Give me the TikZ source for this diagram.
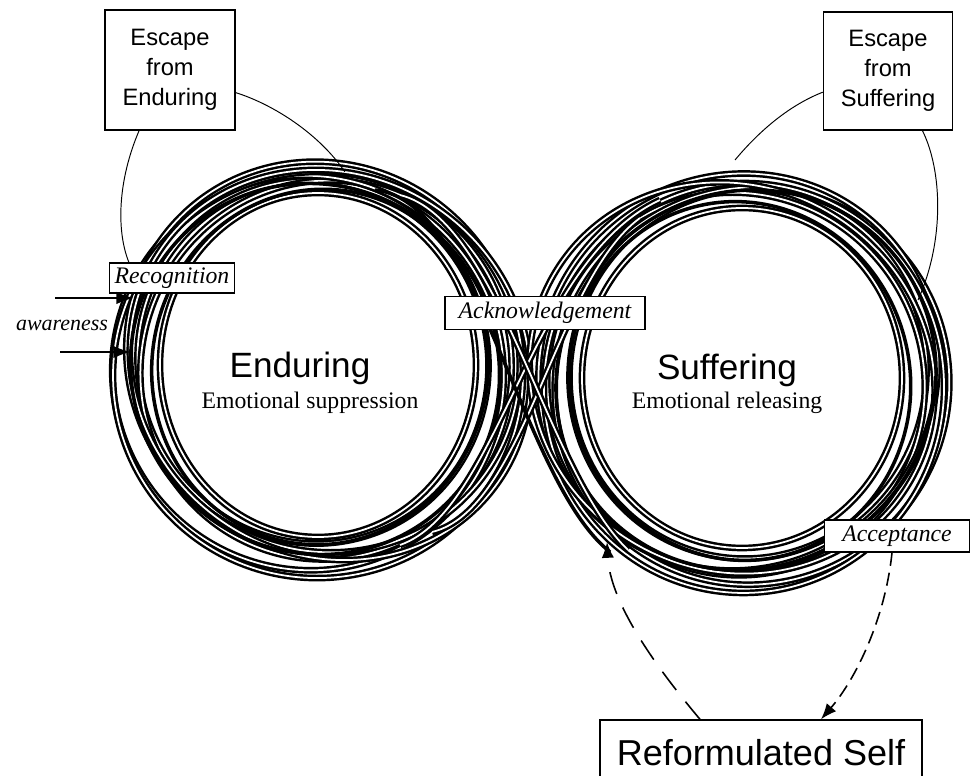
\documentclass[tikz,border=0pt]{standalone}
\usepackage{fontspec}
\setmainfont{Liberation Serif}
\setsansfont{Liberation Sans}
\usepackage{tikz}
\usetikzlibrary{calc, arrows, arrows.meta}
\tikzset{>=latex}

\begin{document}
\begin{tikzpicture}[x=0.02cm, y=-0.02cm,
  box/.style={draw, line width=0.8pt, font=\sffamily\fontsize{13.5}{17}\selectfont, align=center, inner sep=0pt},
  tag/.style={draw, line width=0.8pt, fill=white, font=\itshape\fontsize{13.5}{15}\selectfont, inner sep=0pt},
  strand/.style={line width=1.4pt, double=white, double distance=1pt},
  bold strand/.style={line width=2pt},
  escline/.style={line width=0.55pt},
  dashline/.style={line width=0.9pt, -{Latex[length=9pt, width=7pt]}}]
\useasboundingbox (0,0) rectangle (971,776);

% the two loops
\foreach \dx/\dy/\rx/\ry/\rot in {0/0/158/172/0, -5/-3/175/182/15, 8/5/185/190/-20,
  -10/8/195/198/30, 5/-8/200/192/-40, 0/10/205/203/10, 12/0/190/205/55}
  \draw[strand, rotate around={\rot:(318+\dx,365+\dy)}] (318+\dx,365+\dy) ellipse [x radius=\rx, y radius=\ry];
\foreach \dx/\dy/\rx/\ry/\rot in {2/2/168/178/-10, -3/4/182/188/40}
  \draw[bold strand, rotate around={\rot:(318+\dx,365+\dy)}] (318+\dx,365+\dy) ellipse [x radius=\rx, y radius=\ry];
\foreach \dx/\dy/\rx/\ry/\rot in {0/0/160/170/0, 6/-4/178/185/-15, -6/6/188/192/25,
  10/8/196/200/-35, -4/-6/202/196/40, 2/10/200/205/-5, -10/0/192/206/60}
  \draw[strand, rotate around={\rot:(742+\dx,378+\dy)}] (742+\dx,378+\dy) ellipse [x radius=\rx, y radius=\ry];
\foreach \dx/\dy/\rx/\ry/\rot in {-2/3/170/180/15, 4/2/186/194/-45}
  \draw[bold strand, rotate around={\rot:(742+\dx,378+\dy)}] (742+\dx,378+\dy) ellipse [x radius=\rx, y radius=\ry];

% crossing of the figure eight
\draw[strand] (400,545) .. controls (500,510) and (530,260) .. (660,200);
\draw[strand] (432,532) .. controls (525,510) and (555,280) .. (640,218);
\draw[bold strand] (375,190) .. controls (480,200) and (520,480) .. (610,552);
\draw[strand] (400,195) .. controls (500,220) and (545,470) .. (628,550);

% labels
\node[box, minimum width=2.6cm, minimum height=2.4cm] (escE) at (170,70) {Escape\\from\\Enduring};
\node[box, minimum width=2.58cm, minimum height=2.36cm] (escS) at (888,71) {Escape\\from\\Suffering};
\node[tag, minimum width=2.5cm, minimum height=0.6cm] (recog) at (172,278) {Recognition};
\node[tag, minimum width=4cm, minimum height=0.66cm] (ackn) at (545,313) {Acknowledgement};
\node[tag, minimum width=2.9cm, minimum height=0.64cm] (accept) at (897,536) {Acceptance};
\node[box, font=\sffamily\fontsize{20.5}{24}\selectfont, minimum width=6.44cm, minimum height=1.32cm] (reform) at (761,753) {Reformulated Self};

\node[font=\sffamily\fontsize{20}{24}\selectfont] (endur) at (300,368) {Enduring};
\node[font=\fontsize{13.5}{16}\selectfont] (endsub) at (310,403) {Emotional suppression};
\node[font=\sffamily\fontsize{20}{24}\selectfont] (suff) at (727,370) {Suffering};
\node[font=\fontsize{13.5}{16}\selectfont] (suffsub) at (727,403) {Emotional releasing};
\node[font=\itshape\fontsize{12.5}{14}\selectfont] (aware) at (62,325) {awareness};

% escape lines
\coordinate (eE) at (345,172);
\coordinate (eS) at (735,160);
\coordinate (eS2) at (918,300);
\draw[escline] (escE.243) .. controls (118,180) and (116,230) .. (recog.160);
\draw[escline] (escE.-19) .. controls (275,105) and (320,135) .. (eE);
\draw[escline] (escS.198) .. controls (790,105) and (760,130) .. (eS);
\draw[escline] (escS.300) .. controls (942,170) and (945,240) .. (eS2);

% awareness arrows
\coordinate (aw1) at (134,298);
\coordinate (aw2) at (131,352);
\draw[-{Latex[length=10pt, width=7pt]}, line width=1pt] (55,298) -- (aw1);
\draw[-{Latex[length=10pt, width=7pt]}, line width=1pt] (60,352) -- (aw2);

% dashed arrows
\coordinate (back) at (607,542);
\draw[dashline, dash pattern=on 13pt off 8.5pt] ($(reform.north)+(-61,0)$) .. controls (650,660) and (610,600) .. (back);
\draw[dashline, dash pattern=on 7.5pt off 4pt] ($(accept.south)+(-5,0)$) .. controls (885,620) and (855,680) .. ($(reform.north)+(60,0)$);
\end{tikzpicture}
\end{document}
